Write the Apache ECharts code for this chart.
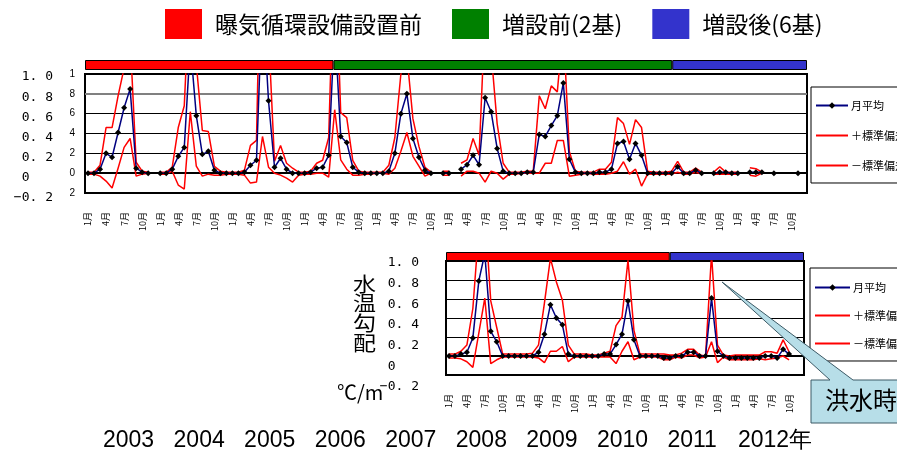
<!DOCTYPE html>
<html><head><meta charset="utf-8">
<script src="https://cdn.jsdelivr.net/npm/echarts@6/dist/echarts.min.js"></script>
<style>html,body{margin:0;padding:0;background:#fff}#c{width:897px;height:453px}</style>
</head><body><div id="c"></div>
<script>
// ---------------- data ----------------
const topYears = [2003,2004,2005,2006,2007,2008,2009,2010,2011,2012];
const bottomYears = [2008,2009,2010,2011,2012];
const monthNums = [1,2,3,4,5,6,7,8,9,10,11,12];

// top chart: monthly mean, +std, -std (Jan 2003 .. Dec 2012)
const topMean = [
  0.00,0.00,0.04,0.20,0.16,0.41,0.66,0.85,0.05,0.01,0.00,null,
  0.00,0.00,0.04,0.17,0.26,1.30,0.58,0.19,0.22,0.03,0.00,0.00,
  0.00,0.00,0.01,0.08,0.13,1.80,0.73,0.06,0.15,0.04,0.00,0.00,
  0.00,0.01,0.05,0.06,0.18,1.50,0.37,0.31,0.06,0.01,0.00,0.00,
  0.00,0.00,0.02,0.20,0.60,0.80,0.35,0.16,0.03,0.00,null,0.00,
  0.00,null,0.04,0.085,0.18,0.085,0.76,0.62,0.25,0.02,0.00,0.00,
  0.00,0.01,0.01,0.39,0.37,0.48,0.58,0.91,0.14,0.01,0.00,0.00,
  0.00,0.01,0.01,0.04,0.30,0.32,0.14,0.30,0.18,0.00,0.00,0.00,
  0.00,0.00,0.065,0.00,0.00,0.03,0.00,null,0.00,0.01,0.01,0.00,
  0.00,null,0.01,0.01,0.01,null,0.00,null,null,null,0.00,null
];
const topUpper = [
  0.01,0.01,0.08,0.46,0.46,0.78,1.06,1.37,0.11,0.02,0.01,null,
  0.01,0.01,0.06,0.46,0.68,2.00,1.10,0.43,0.42,0.07,0.02,0.01,
  0.01,0.01,0.03,0.28,0.33,3.20,1.42,0.12,0.28,0.10,0.05,0.01,
  0.01,0.02,0.10,0.13,0.36,2.40,0.61,0.56,0.13,0.02,0.01,0.01,
  0.01,0.01,0.08,0.36,1.00,1.19,0.55,0.27,0.06,0.01,null,0.02,
  0.02,null,0.10,0.135,0.35,0.18,1.61,1.22,0.50,0.10,0.01,0.01,
  0.01,0.02,0.02,0.78,0.65,0.88,0.82,1.49,0.22,0.02,0.01,0.01,
  0.01,0.04,0.04,0.11,0.56,0.50,0.29,0.54,0.46,0.02,0.01,0.01,
  0.01,0.02,0.12,0.01,0.01,0.05,0.01,null,0.01,0.065,0.01,0.01,
  0.01,null,0.055,0.045,0.01,null,0.00,null,null,null,0.00,null
];
const topLower = [
  -0.01,-0.01,-0.03,-0.08,-0.15,0.05,0.26,0.35,-0.03,-0.01,0.00,null,
  -0.01,-0.01,0.02,-0.12,-0.16,0.62,0.07,-0.03,-0.01,-0.02,-0.02,-0.01,
  -0.01,-0.01,-0.02,-0.10,-0.09,0.37,0.06,0.00,-0.02,-0.05,-0.09,-0.02,
  -0.01,-0.01,0.00,0.00,-0.04,0.64,0.135,0.04,-0.02,-0.02,-0.01,-0.01,
  0.00,0.00,-0.01,0.05,0.22,0.41,0.17,0.07,-0.03,0.00,null,-0.02,
  -0.02,null,-0.03,0.02,0.02,0.00,-0.09,0.02,0.00,-0.06,-0.01,-0.01,
  0.00,0.00,0.00,0.00,0.10,0.10,0.33,0.33,-0.03,-0.02,-0.01,0.00,
  -0.01,-0.01,-0.01,0.00,0.02,0.115,-0.01,0.04,-0.13,-0.01,-0.01,-0.01,
  -0.01,-0.01,0.01,-0.01,-0.01,0.01,-0.01,null,-0.01,-0.01,-0.01,-0.01,
  -0.01,null,-0.02,-0.03,0.00,null,0.00,null,null,null,0.00,null
];

// bottom chart (水温勾配): Jan 2008 .. Dec 2012
const bottomMean = [
  0.00,0.00,0.02,0.04,0.19,0.79,1.08,0.26,0.15,0.00,0.00,0.00,
  0.00,0.00,0.00,0.04,0.23,0.54,0.40,0.33,0.02,0.00,0.00,0.00,
  0.00,0.00,0.02,0.02,0.12,0.23,0.58,0.17,0.00,0.00,0.00,0.00,
  -0.02,-0.02,0.00,0.00,0.04,0.04,0.00,0.00,0.61,0.05,0.00,-0.02,
  -0.02,-0.02,-0.02,-0.02,-0.02,0.00,0.00,-0.02,0.07,0.02,null,null
];
const bottomUpper = [
  0.02,0.02,0.05,0.115,0.50,1.34,1.55,0.58,0.30,0.02,0.02,0.02,
  0.02,0.02,0.03,0.115,0.56,1.03,0.78,0.59,0.115,0.02,0.02,0.02,
  0.01,0.01,0.03,0.05,0.32,0.41,1.01,0.27,0.02,0.02,0.02,0.02,
  0.02,0.01,0.01,0.03,0.07,0.07,0.01,0.00,1.07,0.115,0.01,0.00,
  0.01,0.01,0.01,0.01,0.01,0.045,0.045,0.03,0.17,0.045,null,null
];
const bottomLower = [
  -0.02,-0.02,-0.03,-0.06,-0.12,0.24,0.61,-0.08,-0.04,-0.01,-0.01,-0.01,
  -0.01,-0.01,-0.01,-0.02,-0.07,0.05,0.05,0.10,-0.06,-0.01,-0.01,-0.01,
  -0.01,-0.01,-0.01,-0.01,-0.08,0.05,0.15,-0.04,-0.01,-0.01,-0.01,-0.01,
  -0.04,-0.04,-0.01,-0.02,0.01,0.01,-0.02,-0.01,0.15,-0.07,-0.01,-0.04,
  -0.04,-0.04,-0.04,-0.04,-0.03,-0.04,-0.03,-0.02,0.00,-0.04,null,null
];

// tick labels
const yTicks = [-0.2,0,0.2,0.4,0.6,0.8,1.0];
const outerTickLabels = ['−0. 2','0   ','0. 2','0. 4','0. 6','0. 8','1. 0'];
const innerTickLabels = ['2','0','2','4','6','8','1'];
const yearLabels = ['2003','2004','2005','2006','2007','2008','2009','2010','2011','2012年'];

// names / periods
const seriesNames = ['月平均','＋標準偏差','－標準偏差'];
const periodNames = ['曝気循環設備設置前','増設前(2基)','増設後(6基)'];
const periodColors = ['#FF0000','#008000','#3333CC'];
const topPeriodMonths = [41.3, 56.3, 22.4];     // months from Jan 2003
const bottomPeriodIndex = [0, 2];
const bottomPeriodMonths = [37.5, 22.5];        // months from Jan 2008
const yTitle = '水温勾配';
const yUnit = '℃/m';
const calloutText = '洪水時';

// ---------------- chart ----------------
const topCats = topYears.flatMap(y => monthNums.map(m => m + '月'));
const bottomCats = bottomYears.flatMap(y => monthNums.map(m => m + '月'));
function tickText(v, arr) {
  const i = yTicks.findIndex(t => Math.abs(t - v) < 1e-6);
  return i < 0 ? '' : arr[i];
}
const CJK = '"Noto Sans CJK JP", sans-serif';
const BLUE = '#000080', RED = '#FF0000';

function monthAxis(gridIndex, cats, margin) {
  return {
    type: 'category', gridIndex, data: cats, boundaryGap: true,
    axisLine: { lineStyle: { color: '#000', width: 2 } },
    axisTick: { inside: true, length: 5, interval: 0, lineStyle: { color: '#000', width: 1 } },
    axisLabel: { interval: (i) => i % 3 === 0, rotate: 90, fontSize: 9, margin, color: '#000', fontFamily: CJK },
    splitLine: { show: false }
  };
}
function valueAxis(gridIndex, showInner) {
  return {
    type: 'value', gridIndex, min: -0.2, max: 1.0, interval: 0.2,
    axisLine: { show: true, lineStyle: { color: '#000', width: 2 } },
    axisTick: { show: false },
    axisLabel: showInner ? { formatter: v => tickText(v, innerTickLabels), fontSize: 10, margin: 10, color: '#000',
                              fontFamily: '"Liberation Sans Narrow", "Liberation Sans", sans-serif' } : { show: false },
    splitLine: { show: true, lineStyle: { color: '#000', width: 1 } }
  };
}
function outerAxis(gridIndex) {
  return {
    type: 'value', gridIndex, min: -0.2, max: 1.0, interval: 0.2,
    axisLine: { show: false }, axisTick: { show: false }, splitLine: { show: false },
    axisLabel: { formatter: v => tickText(v, outerTickLabels), fontSize: 13, margin: 2, color: '#000',
                 fontFamily: '"DejaVu Sans Mono", monospace' }
  };
}
function hidden(gridIndex, type, extra) {
  return Object.assign({ type, gridIndex, show: false }, extra || {});
}
function dataSeries(xi, mean, upper, lower, withRefLine) {
  const redBase = { type: 'line', xAxisIndex: xi, yAxisIndex: xi, symbol: 'none', connectNulls: false,
                    lineStyle: { color: RED, width: 1.5 }, itemStyle: { color: RED }, z: 3, silent: true };
  const up = Object.assign({}, redBase, { name: seriesNames[1], data: upper });
  if (withRefLine) {
    up.markLine = { silent: true, symbol: 'none', label: { show: false },
                    lineStyle: { color: '#808080', width: 2, type: 'solid' }, data: [{ yAxis: 0.8 }], z: 2 };
  }
  return [
    { type: 'line', name: seriesNames[0], xAxisIndex: xi, yAxisIndex: xi, data: mean,
      symbol: 'diamond', symbolSize: 6, showSymbol: true, showAllSymbol: true, connectNulls: false,
      lineStyle: { color: BLUE, width: 1.5 }, itemStyle: { color: '#000' }, z: 5, silent: true },
    up,
    Object.assign({}, redBase, { name: seriesNames[2], data: lower })
  ];
}
function strip(xi, names, colors, values, stackId) {
  return values.map((v, k) => ({
    type: 'bar', name: names[k], xAxisIndex: xi, yAxisIndex: xi, stack: stackId, data: [v],
    barWidth: '100%', silent: true,
    itemStyle: { color: colors[k], borderColor: '#000', borderWidth: 1 }
  }));
}
const seriesLegendData = seriesNames.map((n, i) => i === 0 ? { name: n } : { name: n, itemStyle: { opacity: 0 } });

const option = {
  animation: false,
  backgroundColor: '#fff',
  grid: [
    { left: 85, top: 74, width: 722, height: 119, show: true, borderColor: '#000', borderWidth: 2, backgroundColor: '#fff' },
    { left: 446, top: 261, width: 358, height: 114, show: true, borderColor: '#000', borderWidth: 2, backgroundColor: '#fff' },
    { left: 55, top: 77, width: 10, height: 121 },
    { left: 421, top: 263, width: 10, height: 124 },
    { left: 85, top: 60, width: 722, height: 10 },
    { left: 446, top: 252, width: 358, height: 9 },
    { left: 103, top: 420, width: 635, height: 8 }
  ],
  xAxis: [
    monthAxis(0, topCats, 19),
    monthAxis(1, bottomCats, 19),
    hidden(2, 'value'),
    hidden(3, 'value'),
    hidden(4, 'value', { min: 0, max: topCats.length }),
    hidden(5, 'value', { min: 0, max: bottomCats.length }),
    { type: 'category', gridIndex: 6, data: yearLabels, boundaryGap: false,
      axisLine: { show: false }, axisTick: { show: false },
      axisLabel: { interval: 0, align: 'left', fontSize: 23, margin: 1, color: '#000',
                   fontFamily: '"Liberation Sans", Arial, sans-serif' } }
  ],
  yAxis: [
    valueAxis(0, true),
    valueAxis(1, false),
    outerAxis(2),
    outerAxis(3),
    hidden(4, 'category', { data: ['p'] }),
    hidden(5, 'category', { data: ['p'] }),
    hidden(6, 'value')
  ],
  legend: [
    { data: periodNames, left: 165, top: 9, padding: 0, icon: 'rect', itemWidth: 37, itemHeight: 30, itemGap: 30,
      selectedMode: false, itemStyle: { borderWidth: 0 },
      textStyle: { fontSize: 23, fontFamily: CJK, color: '#000', padding: [0, 0, 0, 8] } },
    { data: seriesLegendData, orient: 'vertical', left: 811, top: 87, itemWidth: 32, itemHeight: 8, itemGap: 19,
      padding: [13, 40, 12, 4], borderColor: '#000', borderWidth: 1, backgroundColor: '#fff', selectedMode: false,
      textStyle: { fontSize: 11, fontFamily: CJK, color: '#000', padding: [0, 0, 0, -2] } },
    { data: seriesLegendData, orient: 'vertical', left: 810, top: 268, itemWidth: 35, itemHeight: 8, itemGap: 17,
      padding: [14, 40, 12, 4], borderColor: '#000', borderWidth: 1, backgroundColor: '#fff', selectedMode: false,
      textStyle: { fontSize: 11, fontFamily: CJK, color: '#000', padding: [0, 0, 0, -2] } }
  ],
  series: [
    ...dataSeries(0, topMean, topUpper, topLower, true),
    ...dataSeries(1, bottomMean, bottomUpper, bottomLower, false),
    ...strip(4, periodNames, periodColors, topPeriodMonths, 'topStrip'),
    ...strip(5, bottomPeriodIndex.map(i => periodNames[i]), bottomPeriodIndex.map(i => periodColors[i]), bottomPeriodMonths, 'bottomStrip')
  ],
  graphic: [
    { type: 'text', left: 353, top: 274, scaleX: 1.15,
      style: { text: yTitle.split('').join('\n'), fontSize: 20, lineHeight: 19.7, fontFamily: CJK, fill: '#000' } },
    { type: 'text', left: 337, top: 382,
      style: { text: yUnit, fontSize: 20, fontFamily: CJK, fill: '#000' } },
    { type: 'polygon', z: 50,
      shape: { points: [[811,380],[830,380],[722,282],[853,380],[912,380],[912,423],[811,423]] },
      style: { fill: '#B7DEE8', stroke: '#3c5a66', lineWidth: 1 } },
    { type: 'text', left: 825, top: 388, z: 51,
      style: { text: calloutText, fontSize: 24, fontFamily: CJK, fill: '#000' } }
  ]
};

const chart = echarts.init(document.getElementById('c'), null, { renderer: 'canvas' });
chart.setOption(option);
</script>
</body></html>
